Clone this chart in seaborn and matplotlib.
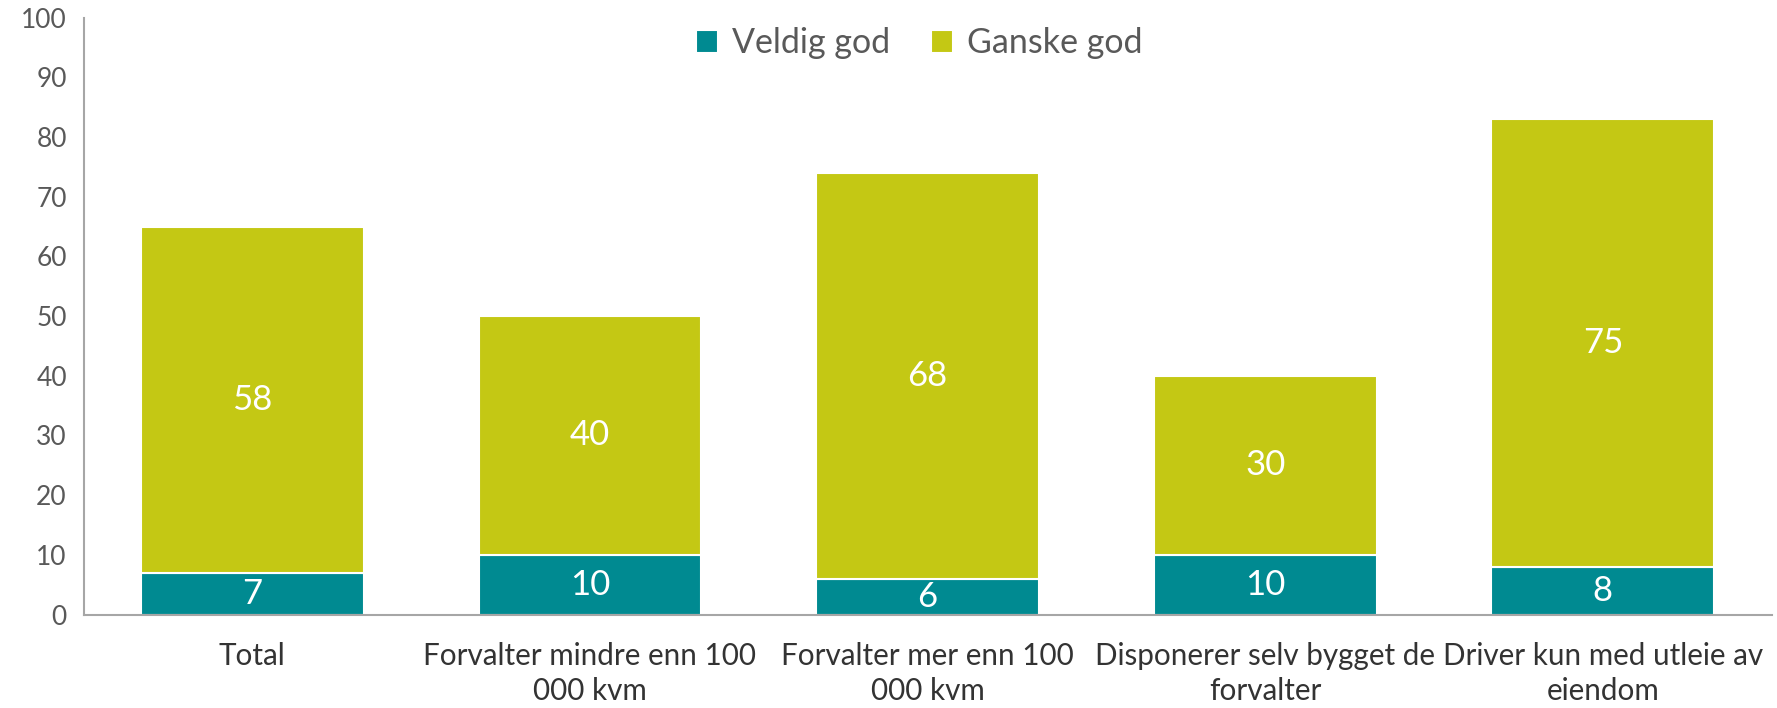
import numpy as np
import matplotlib
matplotlib.use("Agg")
import matplotlib.pyplot as plt
import seaborn as sns
import pandas as pd

categories = [
    "Total",
    "Forvalter mindre enn 100\n000 kvm",
    "Forvalter mer enn 100\n000 kvm",
    "Disponerer selv bygget de\nforvalter",
    "Driver kun med utleie av\neiendom",
]
veldig_god = [7, 10, 6, 10, 8]
ganske_god = [58, 40, 68, 30, 75]

TEAL = "#008A91"
OLIVE = "#C4C814"
GREY = "#595959"

sns.set_theme(style="white")
plt.rcParams["font.family"] = ["Lato", "DejaVu Sans"]

df = pd.DataFrame({"kategori": categories, "veldig": veldig_god, "ganske": ganske_god})

fig, ax = plt.subplots(figsize=(17.77, 7.08), dpi=100)
fig.subplots_adjust(left=0.047, right=0.997, top=0.975, bottom=0.132)

sns.barplot(data=df, x="kategori", y="veldig", color=TEAL, width=0.66,
            edgecolor="white", linewidth=1.5, saturation=1, ax=ax, label="Veldig god")
x = np.arange(len(categories))
top = ax.bar(x, df["ganske"], bottom=df["veldig"], width=0.66, color=OLIVE,
             edgecolor="white", linewidth=1.5, label="Ganske god")

ax.bar_label(ax.containers[0], labels=[str(v) for v in veldig_god],
             label_type="center", color="white", fontsize=25)
ax.bar_label(top, labels=[str(v) for v in ganske_god],
             label_type="center", color="white", fontsize=25)

ax.set_ylim(0, 100)
ax.set_xlim(-0.5, len(categories) - 0.5)
ax.set_yticks(range(0, 101, 10))
ax.set_xlabel("")
ax.set_ylabel("")
ax.tick_params(axis="y", length=0, colors=GREY, labelsize=19, pad=12)
ax.tick_params(axis="x", length=0, colors="#333333", labelsize=21.3, pad=20)
for lbl in ax.get_xticklabels():
    lbl.set_linespacing(1.3)

for s in ["top", "right"]:
    ax.spines[s].set_visible(False)
for s in ["left", "bottom"]:
    ax.spines[s].set_color("#A6A6A6")
    ax.spines[s].set_linewidth(1.5)

leg = ax.legend(loc="upper center", ncol=2, frameon=False, fontsize=24.5,
                handlelength=0.65, handleheight=0.65, handletextpad=0.4,
                columnspacing=1.2, bbox_to_anchor=(0.495, 1.035))
for t in leg.get_texts():
    t.set_color(GREY)

fig.savefig("out.png", dpi=100)
